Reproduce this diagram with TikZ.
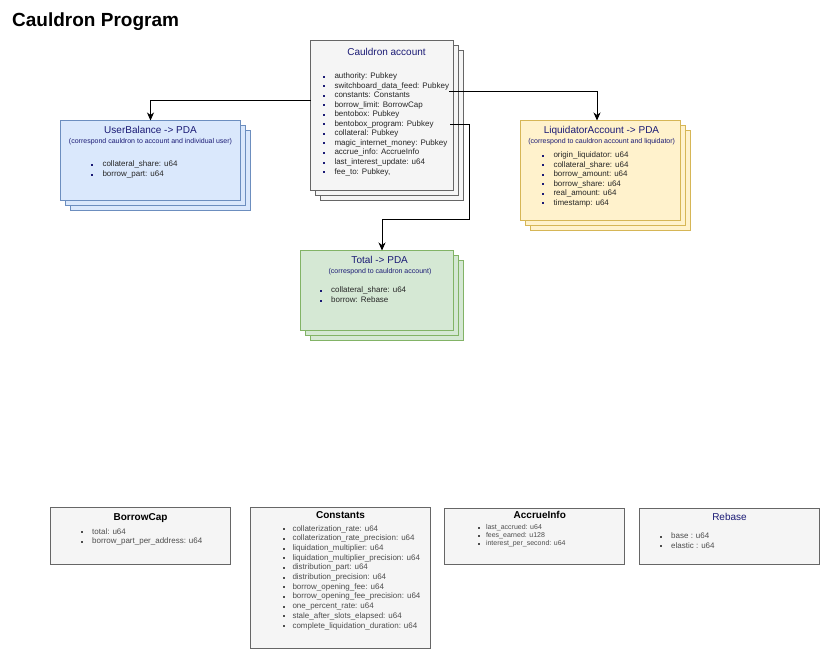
\documentclass[tikz,border=0pt]{standalone}
\usepackage{fontspec}
\setmainfont{Liberation Sans}
\usetikzlibrary{arrows.meta}
\definecolor{gfill}{HTML}{F5F5F5}
\definecolor{gline}{HTML}{666666}
\definecolor{bfill}{HTML}{DAE8FC}
\definecolor{bline}{HTML}{6C8EBF}
\definecolor{yfill}{HTML}{FFF2CC}
\definecolor{yline}{HTML}{D6B656}
\definecolor{nfill}{HTML}{D5E8D4}
\definecolor{nline}{HTML}{82B366}
\definecolor{navy}{HTML}{1A1A75}
\definecolor{dtext}{HTML}{262626}
\definecolor{ltext}{HTML}{4D4D4D}
\tikzset{
  box/.style={draw, line width=0.8pt, anchor=north west, inner sep=0pt, outer sep=0pt},
  gbox/.style={box, draw=gline, fill=gfill},
  bbox/.style={box, draw=bline, fill=bfill},
  ybox/.style={box, draw=yline, fill=yfill},
  nbox/.style={box, draw=nline, fill=nfill},
  ttl/.style={font=\fontsize{10}{12}\selectfont, text=navy, inner sep=0pt, text height=7.2pt, text depth=0pt},
  bttl/.style={font=\fontsize{10}{12}\selectfont\bfseries, text=black, inner sep=0pt, text height=7.2pt, text depth=0pt},
  sub/.style={font=\fontsize{7}{8}\selectfont, text=navy, inner sep=0pt, text height=5pt, text depth=1.5pt},
  itm/.style={anchor=west, inner sep=0pt, text height=5.8pt, text depth=1.8pt},
  bul/.style={rectangle, minimum size=2pt, inner sep=0pt, draw=none},
  arr/.style={-{Stealth[length=8pt,width=7pt,inset=2.5pt]}, line width=0.8pt, draw=black},
}
% stacked box: name, x, y, width, height, style
\newcommand\stk[6]{%
  \node[#6, minimum width=#4, minimum height=#5] (#1-3) at (#2+10,#3+10) {};
  \node[#6, minimum width=#4, minimum height=#5] (#1-2) at (#2+5,#3+5) {};
  \node[#6, minimum width=#4, minimum height=#5] (#1) at (#2,#3) {};}
% list: name, bullet x, text x, first y, step, bullet colour, text colour, font size, items
\newcommand\blist[9]{%
  \foreach \t [count=\i from 0] in {#9} {
    \node[bul, fill=#6] (#1-b\i) at (#2, #4+#5*\i) {};
    \node[itm, text=#7, font=\fontsize{#8}{#8}\selectfont] (#1-t\i) at (#3, #4+#5*\i) {\t};
  }}
\begin{document}
\begin{tikzpicture}[x=1pt,y=-1pt]
\useasboundingbox[fill=white] (0,0) rectangle (820,663);

\node[anchor=base west, inner sep=0pt, font=\fontsize{19}{22}\selectfont\bfseries] (title) at (12,27) {Cauldron Program};

% Cauldron account
\stk{ca}{310.5}{40.5}{143}{150}{gbox}
\node[ttl] (ca-title) at (386.5,52) {Cauldron account};
\blist{cal}{324}{334.3}{76.6}{9.55}{navy}{dtext}{8}{authority: Pubkey, switchboard\_data\_feed: Pubkey, constants: Constants, borrow\_limit: BorrowCap, bentobox: Pubkey, bentobox\_program: Pubkey, collateral: Pubkey, magic\_internet\_money: Pubkey, accrue\_info: AccrueInfo, last\_interest\_update: u64, {fee\_to: Pubkey,}}

% UserBalance
\stk{ub}{60.5}{120.5}{180}{80}{bbox}
\node[ttl] (ub-title) at (150.5,130) {UserBalance -> PDA};
\node[sub] (ub-sub) at (150.5,141.5) {(correspond cauldron to account and individual user)};
\blist{ubl}{92.3}{102.3}{165}{9.6}{navy}{dtext}{8}{collateral\_share: u64, borrow\_part: u64}

% LiquidatorAccount
\stk{la}{520.5}{120.5}{160}{100}{ybox}
\node[ttl] (la-title) at (601.5,130) {LiquidatorAccount -> PDA};
\node[sub] (la-sub) at (601.7,141.5) {(correspond to cauldron account and liquidator)};
\blist{lal}{543.3}{553.3}{155.6}{9.55}{navy}{dtext}{8}{origin\_liquidator: u64, collateral\_share: u64, borrow\_amount: u64, borrow\_share: u64, real\_amount: u64, timestamp: u64}

% Total
\stk{tot}{300.5}{250.5}{153}{80}{nbox}
\node[ttl] (tot-title) at (379.7,260) {Total -> PDA};
\node[sub] (tot-sub) at (380,271.3) {(correspond to cauldron account)};
\blist{totl}{320.7}{331}{291}{9.8}{navy}{dtext}{8}{collateral\_share: u64, borrow: Rebase}

% Bottom type boxes
\node[gbox, minimum width=180, minimum height=57] (bc) at (50.5,507.5) {};
\node[bttl] (bc-title) at (140.5,516.7) {BorrowCap};
\blist{bcl}{82.3}{92}{532}{9.8}{ltext}{ltext}{8}{total: u64, borrow\_part\_per\_address: u64}

\node[gbox, minimum width=180, minimum height=141] (cs) at (250.5,507.5) {};
\node[bttl] (cs-title) at (340.5,515) {Constants};
\blist{csl}{284.3}{292.3}{529.3}{9.67}{ltext}{ltext}{8}{collaterization\_rate: u64, collaterization\_rate\_precision: u64, liquidation\_multiplier: u64, liquidation\_multiplier\_precision: u64, distribution\_part: u64, distribution\_precision: u64, borrow\_opening\_fee: u64, borrow\_opening\_fee\_precision: u64, one\_percent\_rate: u64, stale\_after\_slots\_elapsed: u64, complete\_liquidation\_duration: u64}

\node[gbox, minimum width=180, minimum height=56.5] (ai) at (444.5,508) {};
\node[bttl] (ai-title) at (539.8,515) {AccrueInfo};
\blist{ail}{479}{485.8}{527.7}{8}{ltext}{ltext}{7}{last\_accrued: u64, fees\_earned: u128, interest\_per\_second: u64}

\node[gbox, minimum width=180, minimum height=56.5] (rb) at (639.5,508) {};
\node[ttl] (rb-title) at (729.5,517.3) {Rebase};
\blist{rbl}{661}{671}{536.7}{9.6}{ltext}{ltext}{8}{base : u64, elastic : u64}

% Connectors
\coordinate (src-feed) at (449,91.7);
\coordinate (src-prog) at (450,124.3);
\coordinate (bend-prog) at (469.5,219.5);
\draw[arr] ([yshift=15.5pt]ca.west) -| (ub.north);
\draw[arr] (src-feed) -| ([xshift=-3.5pt]la.north);
\draw[arr] (src-prog) -| (bend-prog) -| ([xshift=5pt]tot.north);
\end{tikzpicture}
\end{document}
